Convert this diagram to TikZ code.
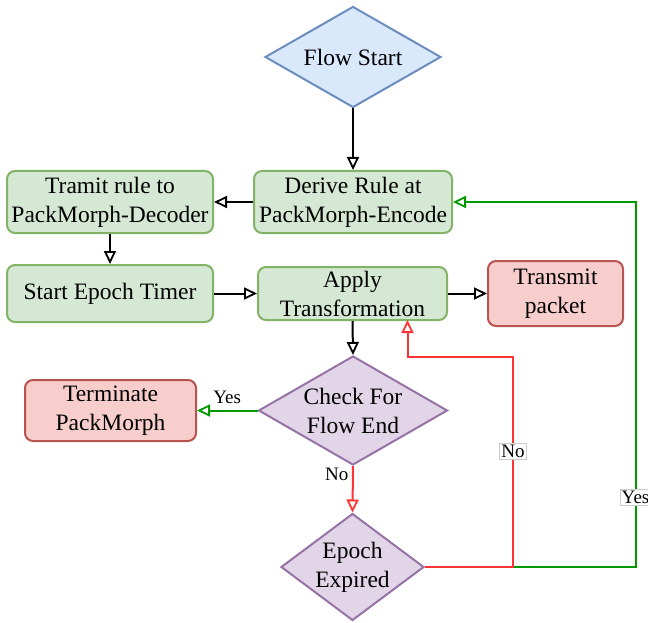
\documentclass[tikz,border=0pt]{standalone}
\usepackage{fontspec}
\setmainfont{Liberation Serif}
\usetikzlibrary{shapes.geometric,arrows.meta}
\definecolor{bfill}{HTML}{DAE8FC}
\definecolor{bdraw}{HTML}{6C8EBF}
\definecolor{gfill}{HTML}{D5E8D4}
\definecolor{gdraw}{HTML}{82B366}
\definecolor{rfill}{HTML}{F8CECC}
\definecolor{rdraw}{HTML}{B85450}
\definecolor{pfill}{HTML}{E1D5E7}
\definecolor{pdraw}{HTML}{9673A6}
\definecolor{lgreen}{HTML}{009900}
\definecolor{lred}{HTML}{FF3333}
\newcommand{\mainsz}{\fontsize{23.5}{29}\selectfont}
\newcommand{\labsz}{\fontsize{19}{22}\selectfont}
\begin{document}
\begin{tikzpicture}[x=1pt,y=-1pt,
  basebox/.style={rectangle, rounded corners=8pt, line width=2pt, align=center, inner sep=0pt, font=\mainsz},
  gbox/.style={basebox, fill=gfill, draw=gdraw},
  rbox/.style={basebox, fill=rfill, draw=rdraw},
  dia/.style={diamond, line width=2pt, align=center, inner sep=0pt, font=\mainsz},
  bdia/.style={dia, fill=bfill, draw=bdraw},
  pdia/.style={dia, fill=pfill, draw=pdraw},
  conn/.style={line width=2pt, -{Triangle[open,length=13pt,width=12pt,line width=1.8pt]}},
  lab/.style={font=\labsz, inner sep=1.5pt},
  boxlab/.style={lab, fill=white, draw=black!20, line width=0.8pt}
]
\useasboundingbox (0,0) rectangle (648,623);

\node[bdia, minimum width=176pt, minimum height=101pt, aspect=1.74] (start) at (353,57) {Flow Start};
\node[gbox, minimum width=198pt, minimum height=62pt] (derive) at (353,202) {Derive Rule at\\PackMorph-Encode};
\node[gbox, minimum width=206pt, minimum height=62pt] (tramit) at (110,202) {Tramit rule to\\PackMorph-Decoder};
\node[gbox, minimum width=206pt, minimum height=57pt] (timer) at (110,293.5) {Start Epoch Timer};
\node[gbox, minimum width=189pt, minimum height=53pt] (apply) at (352.5,293.5) {Apply\\Transformation};
\node[rbox, minimum width=135pt, minimum height=65pt] (transmit) at (555.5,293.5) {Transmit\\packet};
\node[pdia, minimum width=189pt, minimum height=109pt, aspect=1.73] (check) at (353,410.5) {Check For\\Flow End};
\node[rbox, minimum width=171pt, minimum height=61pt] (term) at (110.5,410.5) {Terminate\\PackMorph};
\node[pdia, minimum width=143pt, minimum height=107pt, aspect=1.34] (epoch) at (352.5,567) {Epoch\\Expired};

\coordinate (ry) at (513,567);
\coordinate (gy) at (635.5,567);

\draw[conn] (start.south) -- (derive.north);
\draw[conn] (derive.west) -- (tramit.east);
\draw[conn] (tramit.south) -- (timer.north);
\draw[conn] (timer.east) -- (apply.west);
\draw[conn] (apply.east) -- (transmit.west);
\draw[conn] (apply.south) -- (check.north);
\draw[conn, draw=lgreen] (check.west) -- node[lab, above=4pt] {Yes} (term.east);
\draw[conn, draw=lred] (check.south) -- node[lab, pos=0.17, left=2pt] {No} (epoch.north);

\draw[conn, draw=lgreen] (epoch.east) -- (gy) -- node[boxlab, pos=0.19] {Yes} (gy |- derive.east) -- (derive.east);
\draw[conn, draw=lred] (epoch.east) -- (ry) -- node[boxlab, pos=0.55] {No} (513,356.5) -- (407.5,356.5) -- (407.5,320);
\end{tikzpicture}
\end{document}
